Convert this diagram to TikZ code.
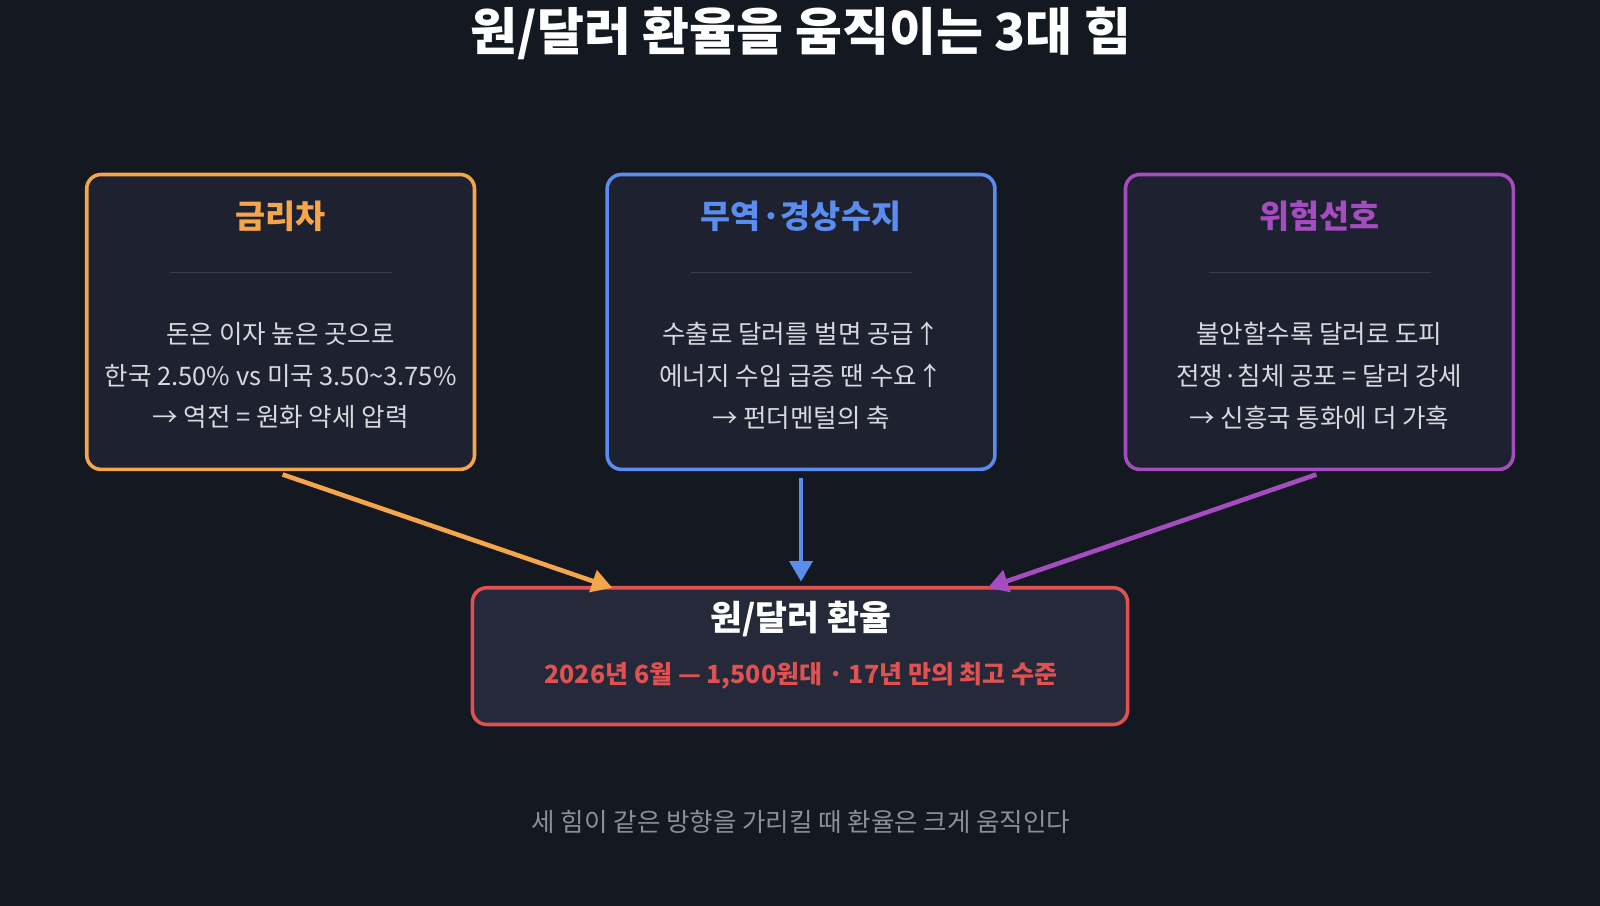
\documentclass[tikz,border=0pt]{standalone}
\usepackage{fontspec}
\setmainfont{Noto Sans CJK KR}
\usetikzlibrary{arrows.meta}
\definecolor{bg}{HTML}{141821}
\definecolor{boxf}{HTML}{1E2130}
\definecolor{boxb}{HTML}{252939}
\definecolor{cor}{HTML}{F5A64A}
\definecolor{cbl}{HTML}{5B8DEF}
\definecolor{cpu}{HTML}{A44CC0}
\definecolor{cre}{HTML}{E05252}
\definecolor{txt}{HTML}{D8D8DE}
\definecolor{sep}{HTML}{3A3E4C}
\definecolor{foot}{HTML}{8A8F9A}
\tikzset{
  card/.style={draw=#1, line width=3.5pt, fill=boxf, rounded corners=14pt},
  head/.style={font=\fontsize{32}{38}\selectfont\bfseries, text=#1},
  body/.style={font=\fontsize{25}{41}\selectfont, text=txt, align=center},
  conn/.style={draw=#1, line width=4.5pt, -{Triangle[length=20pt,width=22pt]}},
}
\begin{document}
\begin{tikzpicture}[x=1pt,y=-1pt]
\fill[bg] (0,0) rectangle (1600,905);
\node (title) at (785,33) {\fontsize{50}{56}\selectfont\bfseries\color{white}원/달러 환율을 움직이는 3대 힘};
% cards
\draw[card=cor] (85,171) rectangle (465,460);
\draw[card=cbl] (595,171) rectangle (975,460);
\draw[card=cpu] (1103,171) rectangle (1483,460);
\node[head=cor] (h1) at (275,212) {금리차};
\node[head=cbl] (h2) at (785,212) {무역·경상수지};
\node[head=cpu] (h3) at (1293,212) {위험선호};
\draw[sep,line width=1.5pt] (167,267) -- (384,267);
\draw[sep,line width=1.5pt] (677,267) -- (894,267);
\draw[sep,line width=1.5pt] (1185,267) -- (1402,267);
\node[body] (b1) at (275,368) {돈은 이자 높은 곳으로\\한국 2.50\% vs 미국 3.50\textasciitilde3.75\%\\→ 역전 = 원화 약세 압력};
\node[body] (b2) at (785,368) {수출로 달러를 벌면 공급↑\\에너지 수입 급증 땐 수요↑\\→ 펀더멘털의 축};
\node[body] (b3) at (1293,368) {불안할수록 달러로 도피\\전쟁·침체 공포 = 달러 강세\\→ 신흥국 통화에 더 가혹};
% bottom
\draw[draw=cre, line width=3.5pt, fill=boxb, rounded corners=14pt] (463,576) rectangle (1105,710);
\node[font=\fontsize{34}{40}\selectfont\bfseries, text=white] (r) at (785,607) {원/달러 환율};
\node[font=\fontsize{24.5}{28}\selectfont\bfseries, text=cre] (r2) at (785,662) {2026년 6월 — 1,500원대 · 17년 만의 최고 수준};
\coordinate (s1) at (277,465); \coordinate (t1) at (600,576);
\coordinate (s2) at (785,468); \coordinate (t2) at (785,570);
\coordinate (s3) at (1290,465); \coordinate (t3) at (968,576);
\draw[conn=cor] (s1) -- (t1);
\draw[conn=cbl] (s2) -- (t2);
\draw[conn=cpu] (s3) -- (t3);
\node[font=\fontsize{25}{28}\selectfont, text=foot] (f) at (785,805) {세 힘이 같은 방향을 가리킬 때 환율은 크게 움직인다};
\pgfresetboundingbox
\useasboundingbox (0,0) rectangle (1568,887);
\end{tikzpicture}
\end{document}
